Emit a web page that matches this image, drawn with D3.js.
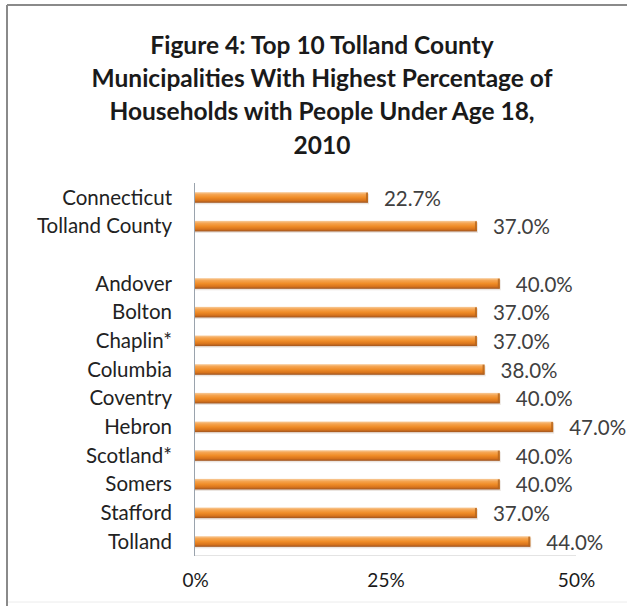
<!DOCTYPE html>
<html>
<head>
<meta charset="utf-8">
<script src="https://cdn.jsdelivr.net/npm/d3@7"></script>
<style>
  html, body { margin: 0; padding: 0; background: #fff; }
  svg { display: block; }
</style>
</head>
<body>
<svg id="chart" width="627" height="606"></svg>
<script>
// Households with people under age 18, 2010 (percent)
const categories = ["Connecticut", "Tolland County", "Andover", "Bolton", "Chaplin*", "Columbia",
  "Coventry", "Hebron", "Scotland*", "Somers", "Stafford", "Tolland"];
const values = [22.7, 37.0, 40.0, 37.0, 37.0, 38.0, 40.0, 47.0, 40.0, 40.0, 37.0, 44.0];
const tickValues = [0, 25, 50];
const titleLines = ["Figure 4: Top 10 Tolland County", "Municipalities With Highest Percentage of",
  "Households with People Under Age 18,", "2010"];

const svg = d3.select("#chart");
const font = "Lato, 'Open Sans', sans-serif";

// outer frame
svg.append("line").attr("x1", 7).attr("x2", 627).attr("y1", 5).attr("y2", 5)
  .attr("stroke", "#8a8a8a").attr("stroke-width", 2);
svg.append("line").attr("x1", 7).attr("x2", 7).attr("y1", 5).attr("y2", 606)
  .attr("stroke", "#8a8a8a").attr("stroke-width", 2);
svg.append("line").attr("x1", 8).attr("x2", 627).attr("y1", 602).attr("y2", 602)
  .attr("stroke", "#ececec").attr("stroke-width", 1);

// title
svg.append("text")
  .attr("x", 322).attr("y", 54)
  .attr("text-anchor", "middle")
  .attr("font-family", font).attr("font-weight", "bold").attr("font-size", 24.5)
  .attr("fill", "#1a1a1a")
  .selectAll("tspan").data(titleLines).join("tspan")
  .attr("x", 322).attr("dy", (d, i) => i === 0 ? 0 : 33.2)
  .text(d => d);

// band slots: a blank slot separates the state/county rows from the towns
const slots = [categories[0], categories[1], "__gap__", ...categories.slice(2)];
const rows = categories.map((c, i) => ({ name: c, value: values[i] }));

const x = d3.scaleLinear().domain([0, 50]).range([195, 576]);
const y = d3.scaleBand().domain(slots).range([183, 556]).paddingInner(0.63).paddingOuter(0.32);

// bar gradient
const defs = svg.append("defs");
const grad = defs.append("linearGradient").attr("id", "barGrad")
  .attr("x1", 0).attr("y1", 0).attr("x2", 0).attr("y2", 1);
[[0, "#f8cc9c"], [0.22, "#f5a450"], [0.5, "#f08d28"], [0.78, "#d8741c"], [1, "#9e5420"]]
  .forEach(([o, c]) => grad.append("stop").attr("offset", o).attr("stop-color", c));

// faint bottom gridline
svg.append("line").attr("x1", x(0)).attr("x2", x(50)).attr("y1", 555.5).attr("y2", 555.5)
  .attr("stroke", "#e4e4e4");

// bars
const bars = svg.append("g");
bars.selectAll("rect.shadow").data(rows).join("rect")
  .attr("class", "shadow")
  .attr("x", x(0)).attr("y", d => y(d.name) + 1.5)
  .attr("width", d => x(d.value) - x(0) + 1)
  .attr("height", y.bandwidth())
  .attr("fill", "#ddd3cb").attr("opacity", 0.6);
bars.selectAll("rect.bar").data(rows).join("rect")
  .attr("class", "bar")
  .attr("x", x(0)).attr("y", d => y(d.name))
  .attr("width", d => x(d.value) - x(0))
  .attr("height", y.bandwidth())
  .attr("fill", "url(#barGrad)");
// darker bar ends
bars.selectAll("rect.cap").data(rows).join("rect")
  .attr("class", "cap")
  .attr("x", d => x(d.value) - 2).attr("y", d => y(d.name) + 0.5)
  .attr("width", 2).attr("height", y.bandwidth() - 1)
  .attr("fill", "#b5651d").attr("opacity", 0.8);

// vertical axis line
svg.append("line").attr("x1", x(0) - 0.5).attr("x2", x(0) - 0.5).attr("y1", 183).attr("y2", 556)
  .attr("stroke", "#9aa3ad").attr("stroke-width", 1);

// category labels
svg.append("g").selectAll("text").data(rows).join("text")
  .attr("x", 172).attr("y", d => y(d.name) + y.bandwidth() / 2)
  .attr("dy", "0.35em")
  .attr("text-anchor", "end")
  .attr("font-family", font).attr("font-size", 20.5).attr("fill", "#222")
  .text(d => d.name);

// value labels
svg.append("g").selectAll("text").data(rows).join("text")
  .attr("x", d => x(d.value) + 16).attr("y", d => y(d.name) + y.bandwidth() / 2 + 1)
  .attr("dy", "0.35em")
  .attr("font-family", font).attr("font-size", 20.5).attr("fill", "#404040")
  .text(d => d.value.toFixed(1) + "%");

// x axis tick labels
const xAxis = d3.axisBottom(x).tickValues(tickValues).tickSize(0).tickPadding(0)
  .tickFormat(d => d + "%");
const gx = svg.append("g").attr("transform", "translate(0,573)").call(xAxis);
gx.select(".domain").remove();
gx.selectAll("text").attr("font-family", font).attr("font-size", 19).attr("fill", "#1a1a1a")
  .attr("dy", "0.71em");
</script>
</body>
</html>
